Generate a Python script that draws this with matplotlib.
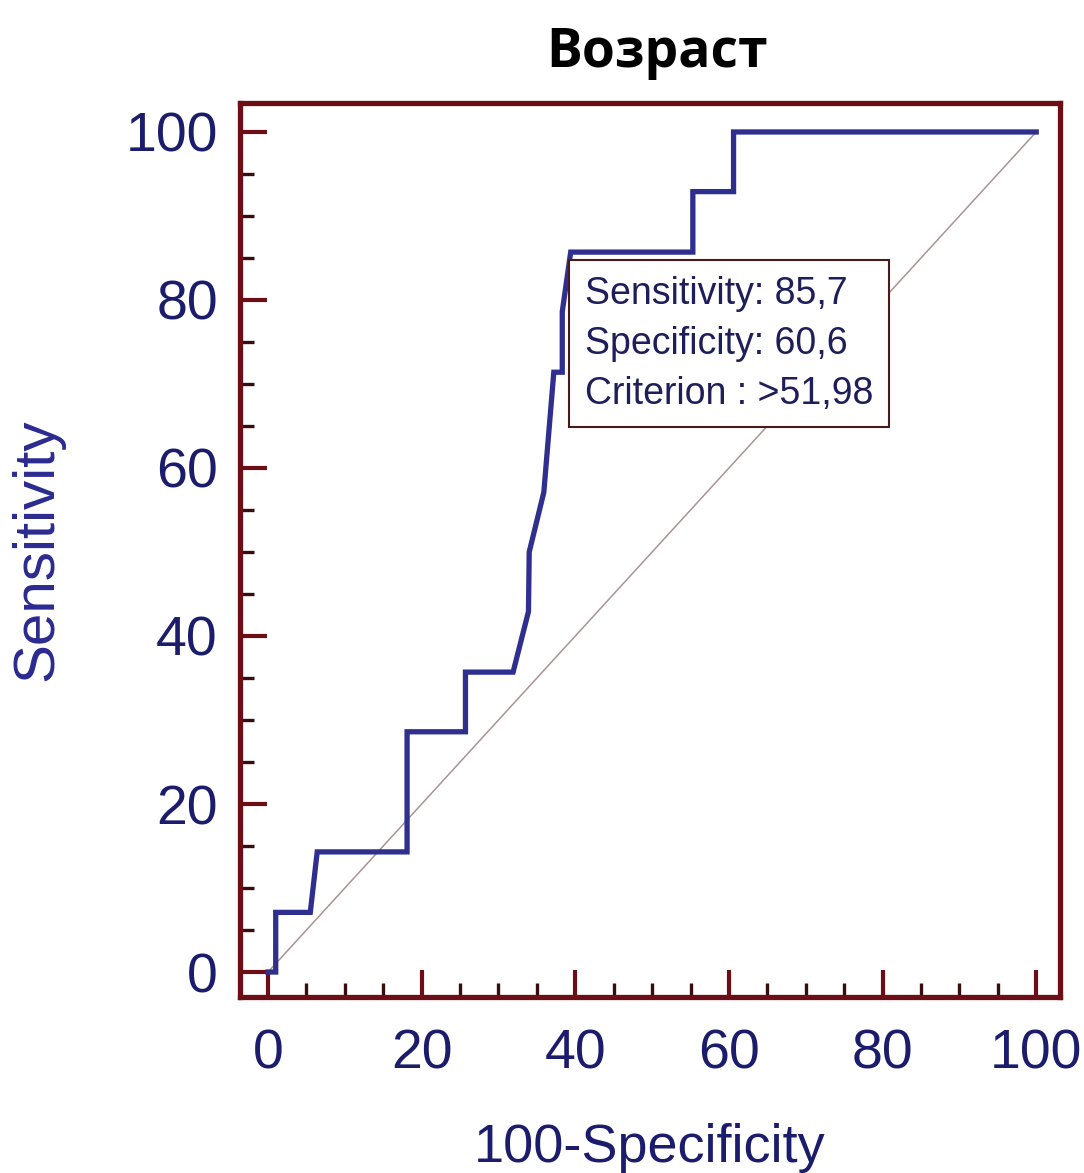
import matplotlib
matplotlib.use('Agg')
import matplotlib.pyplot as plt
from matplotlib.ticker import MultipleLocator

# ROC curve points (100-Specificity, Sensitivity)
fpr = [0, 1.0, 1.0, 5.5, 6.4, 18.1, 18.1, 25.7, 25.7, 31.9, 33.9, 34.0,
       35.9, 37.2, 38.3, 38.3, 39.4, 55.3, 55.3, 60.6, 60.6, 100]
tpr = [0, 0, 7.1, 7.1, 14.3, 14.3, 28.6, 28.6, 35.7, 35.7, 42.9, 50.0,
       57.1, 71.4, 71.4, 78.6, 85.7, 85.7, 92.9, 92.9, 100, 100]

# reference (chance) line
diag_x = [0, 100]
diag_y = [0, 100]

# optimal cut-off
cut_x = 39.4
cut_y = 85.7
cut_lines = ['Sensitivity: 85,7', 'Specificity: 60,6', 'Criterion : >51,98']

major_ticks = [0, 20, 40, 60, 80, 100]

title = 'Возраст'
xlabel = '100-Specificity'
ylabel = 'Sensitivity'

frame_color = '#6b0e16'
curve_color = '#2f2f8f'
text_color = '#1c1c6c'
font = 'Liberation Sans'

fig = plt.figure(figsize=(10.84, 11.73), dpi=100)
ax = fig.add_axes([0.2214, 0.1500, 0.7565, 0.7622])

ax.plot(diag_x, diag_y, color='#a89494', lw=1.1, zorder=1)
ax.plot(fpr, tpr, color=curve_color, lw=3.8, solid_joinstyle='miter', zorder=3)

# cut-off box, anchored at the cut-off point
ax.annotate('\n'.join(cut_lines), xy=(cut_x, cut_y), xytext=(10, -17),
            textcoords='offset points', ha='left', va='top',
            fontsize=27, family=font, color='#1e1e5a', linespacing=1.5,
            bbox=dict(boxstyle='square,pad=0.42', fc='white', ec='#4a1a1a', lw=1.5),
            zorder=4)

ax.set_xlim(-3.65, 103.1)
ax.set_ylim(-2.98, 103.45)
ax.set_xticks(major_ticks)
ax.set_yticks(major_ticks)
ax.xaxis.set_minor_locator(MultipleLocator(5))
ax.yaxis.set_minor_locator(MultipleLocator(5))

for s in ax.spines.values():
    s.set_color(frame_color)
    s.set_linewidth(3.8)

ax.tick_params(which='major', direction='in', length=19.5, width=3.0,
               color=frame_color, labelsize=40, labelcolor=text_color)
ax.tick_params(which='minor', direction='in', length=10, width=2.4,
               color='#3a0c10')
ax.tick_params(axis='x', which='major', pad=23)
ax.tick_params(axis='y', which='major', pad=16)
for lab in ax.get_xticklabels() + ax.get_yticklabels():
    lab.set_family(font)

ax.set_xlabel(xlabel, fontsize=39, family=font, color=text_color, labelpad=30)
ax.set_ylabel(ylabel, fontsize=42, family=font, color='#2a2a90', labelpad=44)

fig.text(0.6065, 0.955, title, ha='center', va='center', fontsize=38.5,
         family='Open Sans', fontweight='bold', color='black')

fig.savefig('out.png', dpi=100, facecolor='white')
